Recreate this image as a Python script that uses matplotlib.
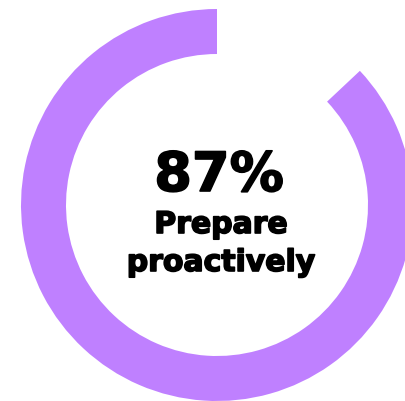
import matplotlib
matplotlib.use("Agg")
import matplotlib.pyplot as plt
import matplotlib.patheffects as pe

# --- Data ---
share = [87, 13]
value_label = "87%"
caption = ["Prepare", "proactively"]
ring_color = "#BF80FF"

fig = plt.figure(figsize=(4.06, 4.01), dpi=100)
ax = fig.add_axes([0, 0, 1, 1])

ax.pie(share, colors=[ring_color, "none"], startangle=90, counterclock=True,
       center=(217, 196), radius=196,
       wedgeprops=dict(width=45, edgecolor="none"))

ax.set_xlim(0, 406)
ax.set_ylim(0, 401)
ax.set_aspect("auto")
ax.axis("off")

heavy = [pe.withStroke(linewidth=1.2, foreground="black")]

# text baselines in pixel coords (y up)
ax.text(219, 401 - 191, value_label, ha="center", va="baseline",
        fontsize=39, fontweight="bold", family="DejaVu Sans", color="black",
        path_effects=heavy)
ax.text(221, 401 - 233, caption[0], ha="center", va="baseline",
        fontsize=21.5, fontweight="bold", family="DejaVu Sans", color="black",
        path_effects=heavy)
ax.text(221, 401 - 271, caption[1], ha="center", va="baseline",
        fontsize=21.5, fontweight="bold", family="DejaVu Sans", color="black",
        path_effects=heavy)

fig.savefig("out.png", dpi=100)
